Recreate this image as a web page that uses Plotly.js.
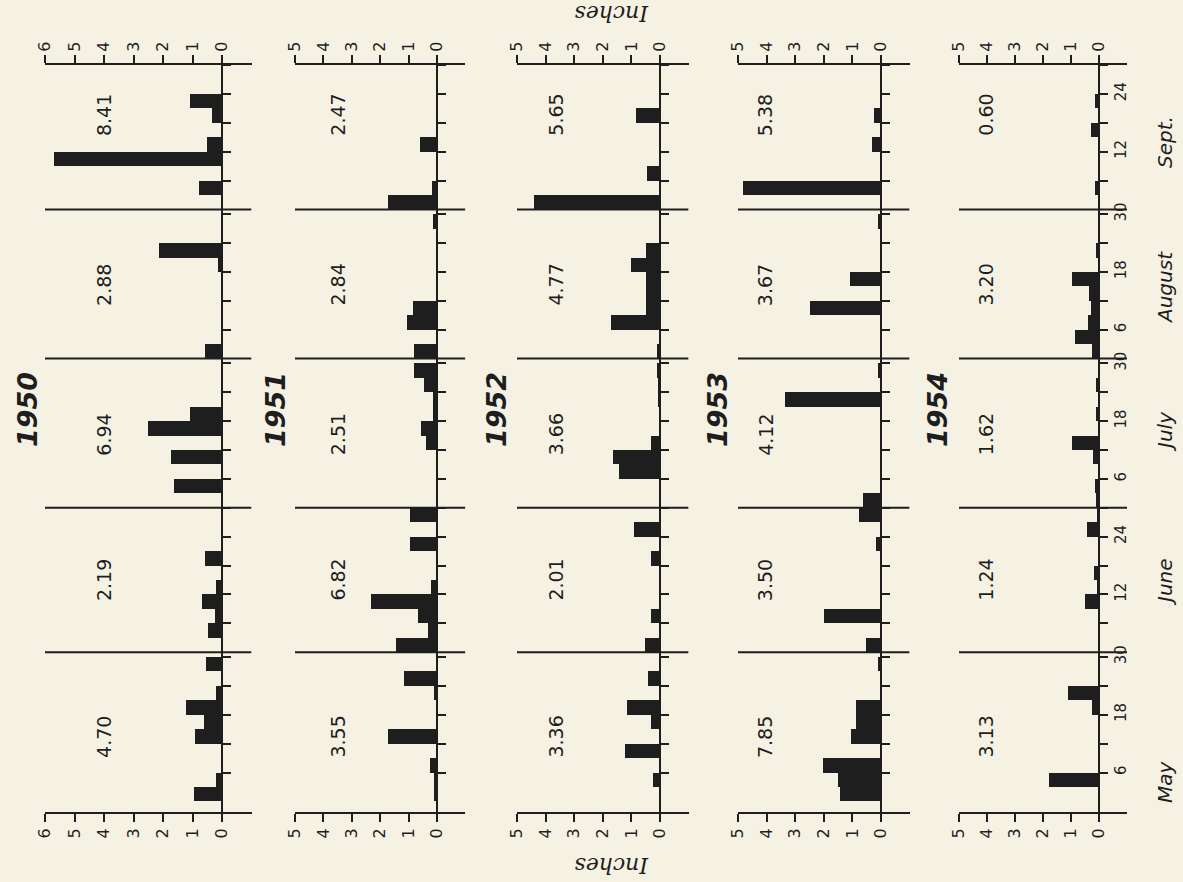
<!DOCTYPE html>
<html><head><meta charset="utf-8">
<script src="https://cdn.plot.ly/plotly-3.0.1.min.js"></script>
<style>html,body{margin:0;padding:0;background:#f5f2e3}</style>
</head><body><div id="chart" style="width:1183px;height:882px"></div>
<script>
// ---------------- DATA ----------------
const years = ['1950', '1951', '1952', '1953', '1954'];
const months = ['May', 'June', 'July', 'August', 'Sept.'];
const monthStartDay = [0, 31, 61, 92, 123];   // day offset of each month from May 1
const binsPerMonth = 10;                      // 3-day periods
const binDays = 3;

// rainfall (inches) per 3-day period, 10 per month: May, June, July, August, Sept.
const rain1950 = [0.96,0.20,0,0,0.92,0.60,1.23,0.20,0,0.55,
                  0,0.48,0.24,0.67,0.21,0,0.59,0,0,0,
                  0,1.62,0,1.72,0,2.50,1.10,0,0,0,
                  0.58,0,0,0,0,0,0.15,2.15,0,0,
                  0,0.78,0,5.70,0.50,0,0.35,1.08,0,0];
const rain1951 = [0.12,0.12,0.26,0,1.72,0,0,0.12,1.17,0,
                  1.45,0.30,0.67,2.31,0.20,0,0,0.96,0,0.94,
                  0,0,0,0,0.40,0.56,0.15,0.15,0.45,0.80,
                  0.80,0,1.05,0.85,0,0,0,0,0,0.14,
                  1.71,0.16,0,0,0.59,0,0,0,0,0];
const rain1952 = [0,0.24,0,1.22,0,0.33,1.15,0,0.42,0,
                  0.51,0,0.30,0,0,0,0.30,0,0.90,0,
                  0,0,1.45,1.65,0.30,0,0,0.08,0.08,0.10,
                  0.10,0,1.73,0.48,0.48,0.48,1.02,0.48,0,0,
                  4.41,0,0.45,0,0,0,0.83,0,0,0];
const rain1953 = [1.45,1.51,2.03,0,1.05,0.87,0.87,0,0,0.12,
                  0.52,0,2.01,0,0,0,0,0.17,0,0.78,
                  0.62,0,0,0,0,0,0,3.37,0,0.12,
                  0,0,0,2.50,0,1.08,0,0,0,0.10,
                  0,4.82,0,0,0.33,0,0.23,0,0,0];
const rain1954 = [0,1.78,0,0,0,0,0.25,1.10,0,0,
                  0,0,0,0.50,0.07,0.18,0,0,0.42,0.07,
                  0.12,0.15,0,0.20,0.95,0,0.10,0,0.10,0,
                  0.25,0.85,0.40,0.30,0.35,0.95,0,0.10,0,0,
                  0,0.15,0,0,0,0.30,0,0.15,0,0];
const rainByYear = [rain1950, rain1951, rain1952, rain1953, rain1954];

// monthly totals as printed
const totals1950 = ['4.70', '2.19', '6.94', '2.88', '8.41'];
const totals1951 = ['3.55', '6.82', '2.51', '2.84', '2.47'];
const totals1952 = ['3.36', '2.01', '3.66', '4.77', '5.65'];
const totals1953 = ['7.85', '3.50', '4.12', '3.67', '5.38'];
const totals1954 = ['3.13', '1.24', '1.62', '3.20', '0.60'];
const totalsByYear = [totals1950, totals1951, totals1952, totals1953, totals1954];

// tick labels
const inchTicks1950 = [0, 1, 2, 3, 4, 5, 6];
const inchTicksOther = [0, 1, 2, 3, 4, 5];
const dayTickOffsets = [6, 12, 18, 24, 30];
const dayTickLabels = [['6','','18','','30'], ['','12','','24',''], ['6','','18','','30'], ['6','','18','','30'], ['','12','','24','']];
const axisTitle = 'Inches';

// ---------------- LAYOUT GEOMETRY ----------------
const W = 1183, H = 882;
const zeroPx = [222, 437, 660, 881, 1099];
const pxPerInch = [29.5, 28.4, 28.6, 28.6, 28.0];
const maxInch = [6, 5, 5, 5, 5];
const extInch = 1.0;
const yTopPx = 65, yBotPx = 812;
const yRange = [-2.2, 153];
const yearLabelPx = [27, 275, 496, 717, 937];
const ink = '#1e1e1e';
const font = 'DejaVu Sans, Liberation Sans, sans-serif';

const dayTickVals = [], dayTickText = [];
monthStartDay.forEach((s, m) => dayTickOffsets.forEach((o, k) => { dayTickVals.push(s + o); dayTickText.push(dayTickLabels[m][k]); }));

const binCenters = [];
monthStartDay.forEach(s => { for (let k = 0; k < binsPerMonth; k++) binCenters.push(s + binDays * k + binDays / 2); });

const traces = [];
const layout = {
  width: W, height: H, margin: {l: 0, r: 0, t: 0, b: 0},
  paper_bgcolor: '#f5f2e3', plot_bgcolor: 'rgba(0,0,0,0)',
  showlegend: false, bargap: 0, barmode: 'overlay',
  font: {family: font, color: ink},
  shapes: [], annotations: []
};
const yDom = [1 - yBotPx / H, 1 - yTopPx / H];

years.forEach((yr, i) => {
  const n = i + 1, sfx = n === 1 ? '' : n;
  const d0 = (zeroPx[i] - maxInch[i] * pxPerInch[i]) / W;
  const d1 = (zeroPx[i] + extInch * pxPerInch[i]) / W;
  const ticks = i === 0 ? inchTicks1950 : inchTicksOther;
  const xr = [maxInch[i], -extInch];
  const common = {range: xr, domain: [d0, d1], tickmode: 'array', tickvals: ticks, ticktext: ticks.map(String),
    showline: true, linecolor: ink, linewidth: 2, ticks: 'outside', ticklen: 8, tickwidth: 2, tickcolor: ink,
    tickangle: -90, tickfont: {size: 16, family: font, color: ink}, showgrid: false, zeroline: false, fixedrange: true};
  layout['xaxis' + sfx] = Object.assign({}, common, {anchor: 'y' + sfx, side: 'bottom'});
  layout['xaxis' + (n + 5)] = Object.assign({}, common, {anchor: 'y' + sfx, side: 'top', overlaying: 'x' + sfx});
  layout['yaxis' + sfx] = {range: yRange, domain: yDom, anchor: 'free', position: zeroPx[i] / W, side: 'right',
    showline: true, linecolor: ink, linewidth: 2, ticks: 'outside', ticklen: 8, tickwidth: 2, tickcolor: ink,
    tickmode: 'array', tickvals: dayTickVals, ticktext: dayTickText, showticklabels: i === 4,
    tickangle: -90, tickfont: {size: 15, family: font, color: ink}, showgrid: false, zeroline: false, fixedrange: true};

  traces.push({type: 'bar', orientation: 'h', x: rainByYear[i], y: binCenters, width: binDays,
    xaxis: 'x' + sfx, yaxis: 'y' + sfx, marker: {color: ink, line: {width: 0}}, hoverinfo: 'x+y'});
  traces.push({type: 'scatter', mode: 'markers', x: [null], y: [null], xaxis: 'x' + (n + 5), yaxis: 'y' + sfx, hoverinfo: 'skip'});

  // month dividers
  monthStartDay.slice(1).forEach(s => layout.shapes.push({type: 'line', xref: 'x' + sfx, yref: 'y' + sfx,
    x0: maxInch[i], x1: -extInch, y0: s, y1: s, line: {color: ink, width: 2}}));

  // monthly totals
  const totX = [4.0, 3.5, 3.65, 4.05, 4.05][i];
  const totDay = [13.4, 46, 76.2, 107.3, 142.6];
  totalsByYear[i].forEach((t, m) => layout.annotations.push({xref: 'x' + sfx, yref: 'y' + sfx, x: totX, y: totDay[m],
    text: t, textangle: -90, showarrow: false, font: {size: 19, family: font, color: ink}}));

  // year label
  layout.annotations.push({xref: 'paper', yref: 'paper', x: yearLabelPx[i] / W, y: 1 - 410 / H,
    xanchor: 'center', yanchor: 'middle',
    text: '<b><i>' + yr + '</i></b>', textangle: -90, showarrow: false, font: {size: 27, family: font, color: ink}});
});

// month names along the right
const monthLabelPx = [782, 582, 432, 288, 142];
months.forEach((m, k) => layout.annotations.push({xref: 'paper', yref: 'paper', x: 1165 / W, y: 1 - monthLabelPx[k] / H,
  xanchor: 'center', yanchor: 'middle',
  text: '<i>' + m + '</i>', textangle: -90, showarrow: false, font: {size: 20, family: font, color: ink}}));

// axis titles (upside down)
[13, 866].forEach(py => layout.annotations.push({xref: 'paper', yref: 'paper', x: 612 / W, y: 1 - py / H,
  xanchor: 'center', yanchor: 'middle',
  text: '<i>' + axisTitle + '</i>', textangle: 180, showarrow: false,
  font: {size: 22, family: 'DejaVu Serif, Liberation Serif, serif', color: ink}}));

Plotly.newPlot('chart', traces, layout, {staticPlot: true, displayModeBar: false});
</script></body></html>
